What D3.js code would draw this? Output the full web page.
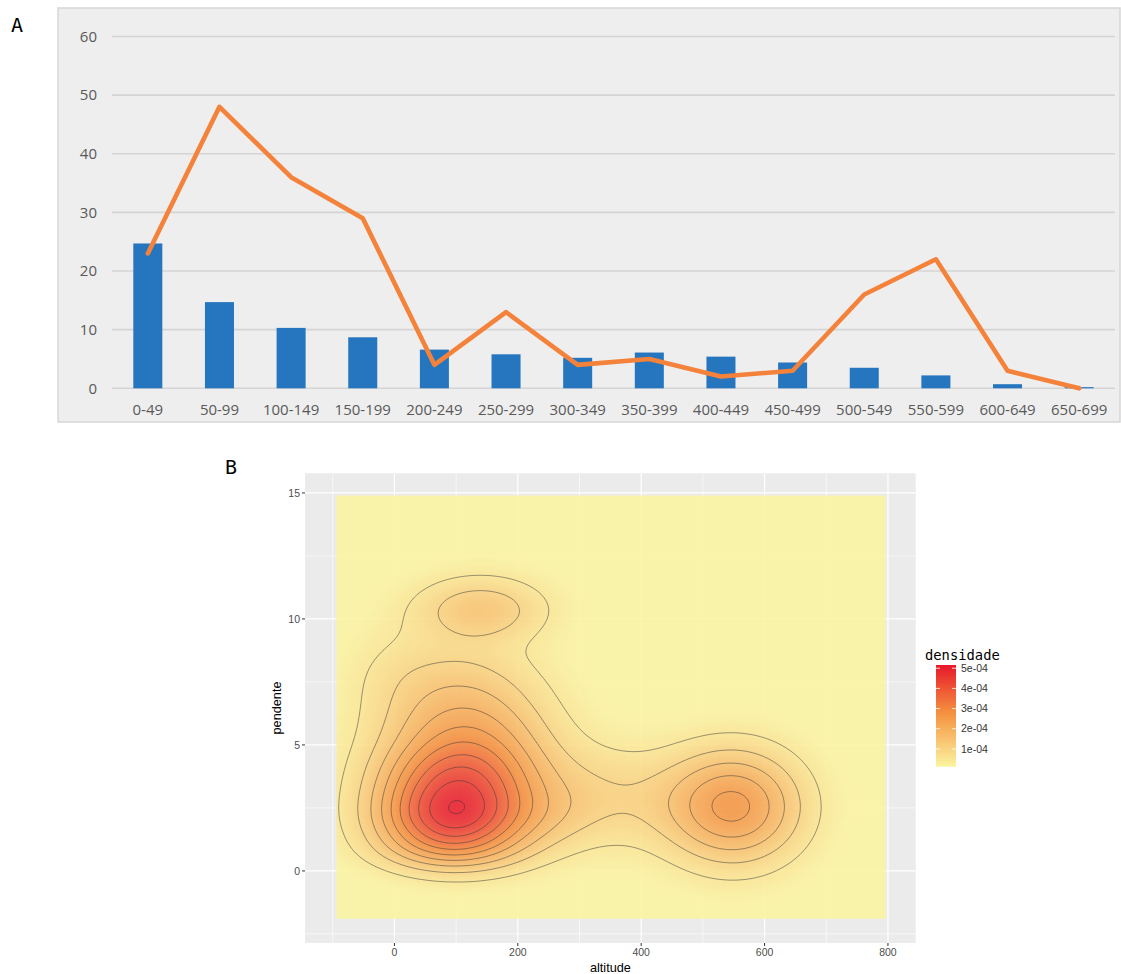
<!DOCTYPE html>
<html>
<head>
<meta charset="utf-8">
<script src="https://cdn.jsdelivr.net/npm/d3@7"></script>
<style>
  body { margin: 0; background: #ffffff; }
  svg { display: block; }
</style>
</head>
<body>
<svg id="chart" width="1121" height="974"></svg>
<script>
// ---------- Panel A: altitude classes ----------
const altitudeClasses = ["0-49", "50-99", "100-149", "150-199", "200-249", "250-299", "300-349",
  "350-399", "400-449", "450-499", "500-549", "550-599", "600-649", "650-699"];
const barValues  = [24.7, 14.7, 10.3, 8.7, 6.6, 5.8, 5.2, 6.1, 5.4, 4.4, 3.5, 2.2, 0.7, 0.2];
const lineValues = [23, 48, 36, 29, 4, 13, 4, 5, 2, 3, 16, 22, 3, 0];
const countTicks = [0, 10, 20, 30, 40, 50, 60];

// ---------- Panel B: kernel components of the 2D density ----------
const kernelAltitude   = [92, 115, 92, 92, 92, 105, 0, 140, 140, 550, 340, 250];
const kernelPendente   = [2.5, 4.6, 1.0, 3.9, 2.0, 7.8, 8.0, 10.35, 10.6, 2.55, 2.9, 2.2];
const kernelSpreadAlt  = [85, 95, 85, 85, 85, 85, 60, 72, 90, 78, 95, 55];
const kernelSpreadPend = [0.9, 2.2, 0.75, 0.85, 0.6, 0.9, 1.4, 0.85, 1.2, 1.6, 1.45, 0.9];
const kernelWeight     = [2.5e-4, 2.7e-4, 1.85e-4, 0.9e-4, 0.5e-4, 0.22e-4, 0.3e-4,
                          0.98e-4, 0.35e-4, 2.6e-4, 0.85e-4, 0.25e-4];

const contourLevels = [0.5e-4, 1e-4, 1.5e-4, 2e-4, 2.5e-4, 3e-4, 3.5e-4, 4e-4, 4.5e-4, 5e-4];
const legendTicks   = [1e-4, 2e-4, 3e-4, 4e-4, 5e-4];
const legendLabels  = ["1e-04", "2e-04", "3e-04", "4e-04", "5e-04"];
const densityRange  = [1.2e-5, 5.16e-4];
const densityStops  = [1.2e-5, 2.8e-4, 5.16e-4];
const densityColors = ["#fbf4a0", "#f5913e", "#e8182b"];

const altTicks   = [0, 200, 400, 600, 800];
const altMinor   = [-100, 100, 300, 500, 700];
const pendTicks  = [0, 5, 10, 15];
const pendMinor  = [-2.5, 2.5, 7.5, 12.5];
const altExtent  = [-94, 796];
const pendExtent = [-1.9, 14.9];

const svg = d3.select("#chart");

// ===================== Panel A =====================
const gA = svg.append("g");
gA.append("rect")
  .attr("x", 58).attr("y", 8).attr("width", 1062).attr("height", 414)
  .attr("fill", "#eeeeee").attr("stroke", "#d6d6d6").attr("stroke-width", 1.5);

const xA = d3.scaleBand().domain(altitudeClasses).range([112, 1115])
  .paddingInner(0.595).paddingOuter(0.2975);
const yA = d3.scaleLinear().domain([0, 60]).range([388.3, 36.5]);

gA.selectAll("line.grid").data(countTicks).join("line")
  .attr("class", "grid")
  .attr("x1", 112).attr("x2", 1115)
  .attr("y1", d => yA(d)).attr("y2", d => yA(d))
  .attr("stroke", "#d4d4d4").attr("stroke-width", 1.6);

gA.selectAll("text.ytick").data(countTicks).join("text")
  .attr("class", "ytick")
  .attr("x", 97).attr("y", d => yA(d)).attr("dy", "0.35em")
  .attr("text-anchor", "end")
  .attr("font-family", "'Open Sans', sans-serif").attr("font-size", 15)
  .attr("fill", "#595959")
  .text(d => d);

gA.selectAll("rect.bar").data(barValues).join("rect")
  .attr("class", "bar")
  .attr("x", (d, i) => xA(altitudeClasses[i]))
  .attr("width", xA.bandwidth())
  .attr("y", d => yA(d))
  .attr("height", d => yA(0) - yA(d))
  .attr("fill", "#2576bf");

const lineA = d3.line()
  .x((d, i) => xA(altitudeClasses[i]) + xA.bandwidth() / 2)
  .y(d => yA(d));
gA.append("path")
  .datum(lineValues)
  .attr("d", lineA)
  .attr("fill", "none")
  .attr("stroke", "#f4823a")
  .attr("stroke-width", 4.6)
  .attr("stroke-linejoin", "round")
  .attr("stroke-linecap", "round");

gA.selectAll("text.xtick").data(altitudeClasses).join("text")
  .attr("class", "xtick")
  .attr("x", d => xA(d) + xA.bandwidth() / 2)
  .attr("y", 409.5).attr("dy", "0.35em")
  .attr("text-anchor", "middle")
  .attr("font-family", "'Open Sans', sans-serif").attr("font-size", 15)
  .attr("fill", "#595959")
  .text(d => d);

svg.append("text")
  .attr("x", 11).attr("y", 32)
  .attr("font-family", "'DejaVu Sans Mono', monospace").attr("font-size", 20)
  .attr("fill", "#000").text("A");

// ===================== Panel B =====================
const xB = d3.scaleLinear().domain([-145, 845]).range([305, 915.7]);
const yB = d3.scaleLinear().domain([-2.86, 15.78]).range([943, 473.3]);
const gB = svg.append("g");

gB.append("rect")
  .attr("x", 305).attr("y", 473.3).attr("width", 610.7).attr("height", 469.7)
  .attr("fill", "#ebebeb");

gB.selectAll("line.minx").data(altMinor).join("line")
  .attr("x1", d => xB(d)).attr("x2", d => xB(d)).attr("y1", 473.3).attr("y2", 943)
  .attr("stroke", "#fff").attr("stroke-width", 0.6);
gB.selectAll("line.miny").data(pendMinor).join("line")
  .attr("y1", d => yB(d)).attr("y2", d => yB(d)).attr("x1", 305).attr("x2", 915.7)
  .attr("stroke", "#fff").attr("stroke-width", 0.6);
gB.selectAll("line.majx").data(altTicks).join("line")
  .attr("x1", d => xB(d)).attr("x2", d => xB(d)).attr("y1", 473.3).attr("y2", 943)
  .attr("stroke", "#fff").attr("stroke-width", 1.2);
gB.selectAll("line.majy").data(pendTicks).join("line")
  .attr("y1", d => yB(d)).attr("y2", d => yB(d)).attr("x1", 305).attr("x2", 915.7)
  .attr("stroke", "#fff").attr("stroke-width", 1.2);

function density(a, p) {
  let s = 0;
  for (let k = 0; k < kernelAltitude.length; k++) {
    const u = (a - kernelAltitude[k]) / kernelSpreadAlt[k];
    const v = (p - kernelPendente[k]) / kernelSpreadPend[k];
    s += kernelWeight[k] * Math.exp(-0.5 * (u * u + v * v));
  }
  return s;
}

const fill = d3.scaleLinear().domain(densityStops).range(densityColors)
  .interpolate(d3.interpolateRgb).clamp(true);

// density grid (row 0 = top of the plot)
const nx = 200, ny = 180;
const stepX = (altExtent[1] - altExtent[0]) / nx;
const stepY = (pendExtent[1] - pendExtent[0]) / ny;
const grid = new Float64Array(nx * ny);
for (let j = 0; j < ny; j++) {
  const p = pendExtent[1] - (j + 0.5) * stepY;
  for (let i = 0; i < nx; i++) {
    const a = altExtent[0] + (i + 0.5) * stepX;
    grid[j * nx + i] = density(a, p);
  }
}

// raster
const canvas = document.createElement("canvas");
canvas.width = nx; canvas.height = ny;
const ctx = canvas.getContext("2d");
const img = ctx.createImageData(nx, ny);
for (let k = 0; k < nx * ny; k++) {
  const c = d3.rgb(fill(grid[k]));
  img.data[4 * k] = c.r; img.data[4 * k + 1] = c.g; img.data[4 * k + 2] = c.b;
  img.data[4 * k + 3] = 225;
}
ctx.putImageData(img, 0, 0);
gB.append("image")
  .attr("href", canvas.toDataURL())
  .attr("x", xB(altExtent[0])).attr("y", yB(pendExtent[1]))
  .attr("width", xB(altExtent[1]) - xB(altExtent[0]))
  .attr("height", yB(pendExtent[0]) - yB(pendExtent[1]))
  .attr("preserveAspectRatio", "none");

// contour lines
const contours = d3.contours().size([nx, ny]).thresholds(contourLevels)(Array.from(grid));
const toScreen = d3.geoTransform({
  point(x, y) {
    this.stream.point(xB(altExtent[0] + x * stepX), yB(pendExtent[1] - y * stepY));
  }
});
gB.append("g").selectAll("path").data(contours).join("path")
  .attr("d", d3.geoPath(toScreen))
  .attr("fill", "none")
  .attr("stroke", "#333333")
  .attr("stroke-opacity", 0.55)
  .attr("stroke-width", 0.9);

// axes
const axisColor = "#333333";
gB.selectAll("line.ytk").data(pendTicks).join("line")
  .attr("x1", 302).attr("x2", 305).attr("y1", d => yB(d)).attr("y2", d => yB(d))
  .attr("stroke", axisColor).attr("stroke-width", 1);
gB.selectAll("text.ytl").data(pendTicks).join("text")
  .attr("x", 300).attr("y", d => yB(d)).attr("dy", "0.35em")
  .attr("text-anchor", "end")
  .attr("font-family", "'Liberation Sans', Arial, sans-serif").attr("font-size", 10.5)
  .attr("fill", "#4d4d4d").text(d => d);
gB.selectAll("line.xtk").data(altTicks).join("line")
  .attr("x1", d => xB(d)).attr("x2", d => xB(d)).attr("y1", 943).attr("y2", 946)
  .attr("stroke", axisColor).attr("stroke-width", 1);
gB.selectAll("text.xtl").data(altTicks).join("text")
  .attr("x", d => xB(d)).attr("y", 956)
  .attr("text-anchor", "middle")
  .attr("font-family", "'Liberation Sans', Arial, sans-serif").attr("font-size", 10.5)
  .attr("fill", "#4d4d4d").text(d => d);

gB.append("text")
  .attr("x", 610.4).attr("y", 972)
  .attr("text-anchor", "middle")
  .attr("font-family", "'Liberation Sans', Arial, sans-serif").attr("font-size", 12.7)
  .attr("fill", "#000").text("altitude");
gB.append("text")
  .attr("transform", "translate(281,708) rotate(-90)")
  .attr("text-anchor", "middle")
  .attr("font-family", "'Liberation Sans', Arial, sans-serif").attr("font-size", 12.7)
  .attr("fill", "#000").text("pendente");

// legend
const yL = d3.scaleLinear().domain(densityRange).range([766.7, 665]);
const grad = svg.append("defs").append("linearGradient")
  .attr("id", "densGrad").attr("x1", 0).attr("y1", 1).attr("x2", 0).attr("y2", 0);
d3.range(0, 1.0001, 0.05).forEach(t => {
  const v = densityRange[0] + t * (densityRange[1] - densityRange[0]);
  grad.append("stop").attr("offset", t).attr("stop-color", fill(v));
});
gB.append("rect")
  .attr("x", 936).attr("y", 665).attr("width", 20).attr("height", 101.7)
  .attr("fill", "url(#densGrad)");
legendTicks.forEach(v => {
  gB.append("line").attr("x1", 936).attr("x2", 940).attr("y1", yL(v)).attr("y2", yL(v))
    .attr("stroke", "#fff").attr("stroke-opacity", 0.8).attr("stroke-width", 1);
  gB.append("line").attr("x1", 952).attr("x2", 956).attr("y1", yL(v)).attr("y2", yL(v))
    .attr("stroke", "#fff").attr("stroke-opacity", 0.8).attr("stroke-width", 1);
});
gB.selectAll("text.ll").data(legendTicks).join("text")
  .attr("x", 961).attr("y", d => yL(d)).attr("dy", "0.35em")
  .attr("font-family", "'Liberation Sans', Arial, sans-serif").attr("font-size", 10.5)
  .attr("fill", "#333").text((d, i) => legendLabels[i]);
gB.append("text")
  .attr("x", 925).attr("y", 659.5)
  .attr("font-family", "'DejaVu Sans Mono', monospace").attr("font-size", 13.8)
  .attr("fill", "#000").text("densidade");

svg.append("text")
  .attr("x", 225).attr("y", 474)
  .attr("font-family", "'DejaVu Sans Mono', monospace").attr("font-size", 20)
  .attr("fill", "#000").text("B");
</script>
</body>
</html>
